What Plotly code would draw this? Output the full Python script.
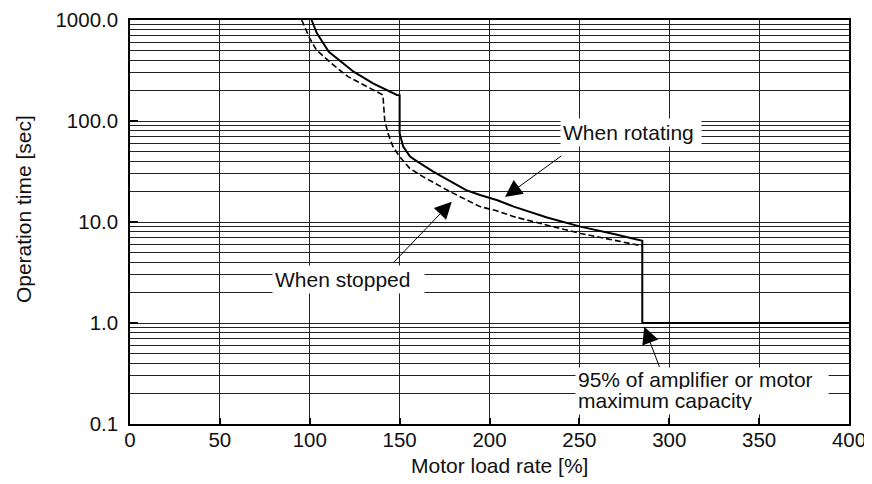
import plotly.graph_objects as go

# ---- data ----
load_rotating = [101, 104, 110.6, 118.5, 124.4, 135.2, 148.5, 150, 150, 152, 155.8, 159.5,
                 168.7, 187, 194.7, 204, 213.5, 232, 250.6, 269.2, 285, 285, 400]
time_rotating = [1000, 738, 485, 372, 308, 236, 181, 180, 75.5, 55.7, 44.4, 40,
                 31.5, 20.7, 18.5, 16.5, 14.2, 11.1, 9.0, 7.6, 6.5, 1.0, 1.0]

load_stopped = [95.5, 100, 103.7, 112, 121.3, 131.5, 140.7, 141.7, 143.5, 146.3, 150,
                155.6, 163, 178, 194.7, 204, 213.5, 232, 250.7, 269.3, 285]
time_stopped = [1000, 659, 505, 372, 275, 219, 181, 102, 75.5, 55.7, 44.4,
                34, 28.1, 20, 14.2, 12.9, 11.3, 9.3, 7.7, 6.6, 5.8]

x_tick_vals = [0, 50, 100, 150, 200, 250, 300, 350, 400]
y_tick_vals = [0.1, 1, 10, 100, 1000]
y_tick_text = ["0.1", "1.0", "10.0", "100.0", "1000.0"]
y_minor_vals = [m * 10 ** e for e in range(-1, 3) for m in range(2, 10)]

FONT = "Arial, 'Liberation Sans', Helvetica, sans-serif"
GRID = "#222222"

fig = go.Figure()
fig.add_trace(go.Scatter(x=load_stopped, y=time_stopped, mode="lines",
                         line=dict(color="black", width=1.6, dash="6px,3px"),
                         name="When stopped"))
fig.add_trace(go.Scatter(x=load_rotating, y=time_rotating, mode="lines",
                         line=dict(color="black", width=2),
                         name="When rotating"))

# the page body adds an 8px offset, so the figure is 8px smaller than the window
fig.update_layout(
    width=864, height=476,
    margin=dict(l=122, r=23, t=12, b=60),
    paper_bgcolor="white", plot_bgcolor="white",
    showlegend=False,
    font=dict(family=FONT, size=21, color="#111111"),
)
fig.update_xaxes(
    range=[0, 400], tickvals=x_tick_vals, ticks="inside", ticklen=6,
    tickwidth=1.5, tickcolor="black", showgrid=True, gridcolor=GRID, gridwidth=1,
    showline=True, linecolor="black", linewidth=1.5, mirror=True, zeroline=False,
    ticklabelstandoff=-3, automargin=False, tickfont=dict(size=20.5),
)
fig.update_yaxes(
    type="log", range=[-1, 3], tickvals=y_tick_vals, ticktext=y_tick_text,
    ticks="inside", ticklen=8, tickwidth=2, tickcolor="black",
    showgrid=True, gridcolor=GRID, gridwidth=1,
    showline=True, linecolor="black", linewidth=1.5, mirror=True, zeroline=False,
    ticklabelstandoff=6, automargin=False, tickfont=dict(size=20.5),
    minor=dict(tickvals=y_minor_vals, showgrid=True, gridcolor=GRID, gridwidth=1, ticks=""),
)

# axis titles
fig.add_annotation(xref="paper", yref="paper", x=0.5146, y=-0.1015,
                   text="Motor load rate [%]", showarrow=False,
                   xanchor="center", yanchor="middle")
fig.add_annotation(xref="paper", yref="paper", x=-0.1488, y=0.532,
                   text="Operation time [sec]", showarrow=False, textangle=-90,
                   xanchor="center", yanchor="middle")

# arrows
arrow_style = dict(showarrow=True, arrowhead=2, arrowsize=3.4, arrowwidth=1,
                   arrowcolor="black", standoff=0, text="", xref="x", yref="y")
fig.add_annotation(x=208.6, y=1.248, ax=57.7, ay=-42, **arrow_style)
fig.add_annotation(x=179.0, y=1.201, ax=-59, ay=61.6, **arrow_style)
fig.add_annotation(x=286.1, y=-0.0366, ax=15.7, ay=41.6, **arrow_style)

# labels
label_style = dict(showarrow=False, bgcolor="white", borderpad=2, xref="x", yref="y",
                   xanchor="left", yanchor="middle", align="left")
fig.add_annotation(x=239.2, y=1.886, text="When rotating", width=136, **label_style)
fig.add_annotation(x=79.0, y=0.4356, text="When stopped", width=147, **label_style)
# white backing box for the two-line note, then its two lines on top
fig.add_annotation(x=247.6, y=-0.673, text=" ", width=248, height=42, **label_style)
line_style = dict(label_style, bgcolor="rgba(0,0,0,0)")
fig.add_annotation(x=247.6, y=-0.559, text="95% of amplifier or motor", width=248,
                   height=20, **line_style)
fig.add_annotation(x=247.6, y=-0.767, text="maximum capacity", width=248,
                   height=20, **line_style)

fig.write_html("out.html", config={"displayModeBar": False})
